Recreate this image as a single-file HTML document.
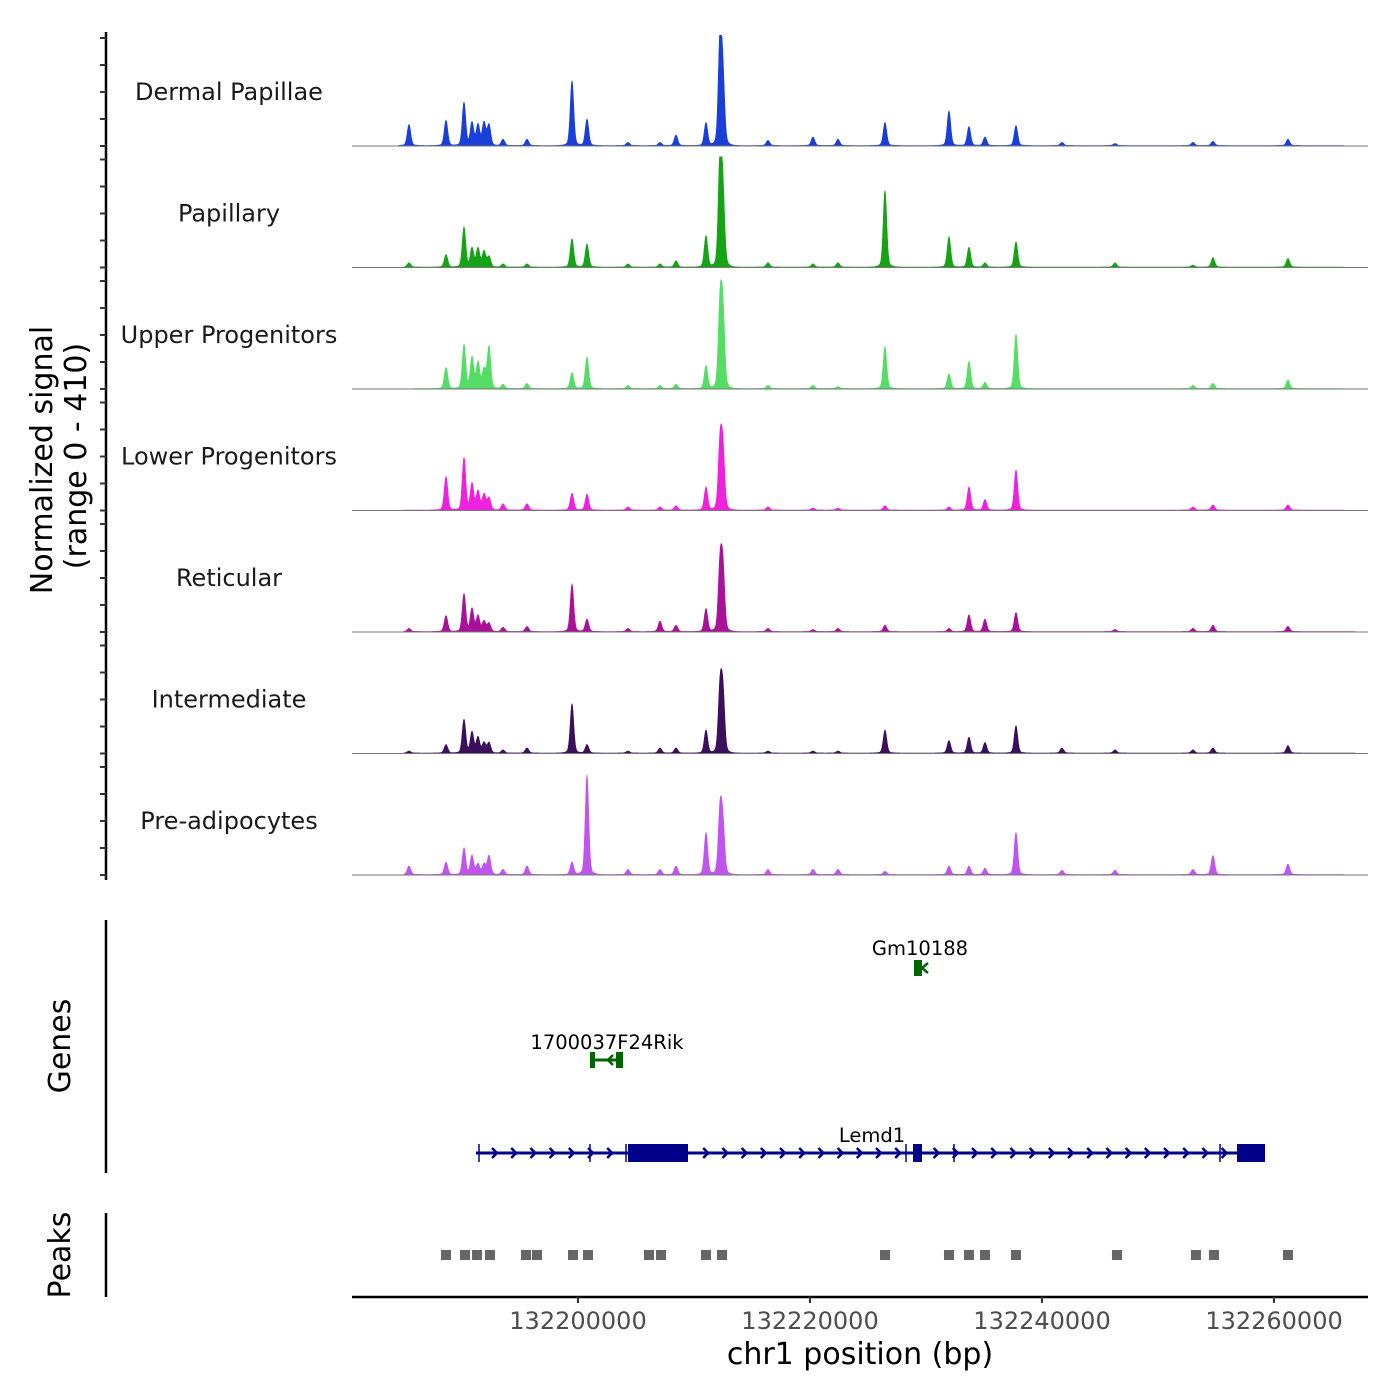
<!DOCTYPE html>
<html><head><meta charset="utf-8"><style>
body{margin:0;background:#fff}
svg{display:block;font-family:"DejaVu Sans","Liberation Sans",sans-serif}
</style></head><body>
<svg id="chart" width="1400" height="1400" viewBox="0 0 1400 1400"></svg>
<script>
const startBp = 132180517, endBp = 132268100;
const trackNames = ["Dermal Papillae","Papillary","Upper Progenitors","Lower Progenitors","Reticular","Intermediate","Pre-adipocytes"];
const trackColors = ["#1a3fd9","#16a316","#55dd66","#ee22dd","#aa1199","#3b0f5c","#c055ee"];
const peakPositions = [132185430,132188620,132190171,132190861,132191378,132191895,132192326,132193533,132195602,132199481,132200774,132204308,132207067,132208446,132211032,132212239,132212497,132216376,132220255,132222410,132226462,132231978,132233702,132235082,132237754,132241719,132246288,132253011,132254735,132261200];
const dermalValues = [74,89,152,81,74,81,74,22,22,229,93,11,11,37,81,370,222,18,30,22,81,122,67,30,70,11,7,11,15,22];
const papillaryValues = [15,44,141,67,67,56,37,11,11,100,81,11,11,22,111,380,241,15,11,15,270,107,70,15,89,0,15,7,33,30];
const upperValues = [0,74,155,111,93,67,148,15,18,56,111,11,11,15,81,289,259,11,11,7,148,52,96,22,192,0,0,11,18,30];
const lowerValues = [0,118,185,93,67,56,44,22,22,59,56,11,11,15,81,229,204,11,7,7,15,11,81,37,141,0,0,11,18,18];
const reticularValues = [11,56,133,81,56,37,30,15,18,167,44,11,37,22,81,229,215,11,7,11,22,11,59,44,67,0,7,11,22,18];
const intermediateValues = [7,30,118,74,56,37,37,11,18,174,30,7,18,18,81,222,204,7,7,7,81,44,56,37,96,18,11,11,18,26];
const preadipValues = [30,44,93,67,37,37,67,18,30,44,352,18,18,30,148,222,167,18,18,18,11,30,30,22,148,15,15,18,67,37];
const trackValues = [dermalValues,papillaryValues,upperValues,lowerValues,reticularValues,intermediateValues,preadipValues];
const yMax = 410;
const yTicks = [0,100,200,300,400];
const xTicks = [132200000,132220000,132240000,132260000];
const peakRegions = [132188620,132190260,132191295,132192410,132195515,132196465,132199570,132200860,132206120,132207155,132211032,132212412,132226462,132231978,132233702,132235082,132237754,132246460,132253270,132254822,132261200];
const signalStart = [132184600,132185000,132186000,132185000,132185000,132185000,132185000];
const signalEnd = [132266000,132266000,132266000,132266000,132267000,132267000,132266000];

const NS="http://www.w3.org/2000/svg";
const svg=document.getElementById('chart');
const X0=352,X1=1368;
function xs(bp){return X0+(bp-startBp)/(endBp-startBp)*(X1-X0);}
const trackBase=[146,267.5,389,510.5,632,753.5,875];
const pxPerUnit=0.27;
function el(tag,attrs,parent){const e=document.createElementNS(NS,tag);for(const k in attrs)e.setAttribute(k,attrs[k]);(parent||svg).appendChild(e);return e;}
function txt(s,attrs){const t=el('text',attrs);t.textContent=s;return t;}

let a=el('line',{x1:106,y1:32,x2:106,y2:880,stroke:'#000','stroke-width':2.5});


trackBase.forEach((b,i)=>{
  yTicks.forEach(v=>{
    const y=b-v*pxPerUnit;
    const t=el('line',{x1:100,y1:y,x2:106,y2:y,stroke:'#333','stroke-width':2});
    
    
  });
});
let yt=txt('Normalized signal',{x:0,y:0,'font-size':30,'text-anchor':'middle',transform:'translate(52,460) rotate(-90)',fill:'#000'});


let yt2=txt('(range 0 - 410)',{x:0,y:0,'font-size':30,'text-anchor':'middle',transform:'translate(86,456) rotate(-90)',fill:'#000'});



trackNames.forEach((name,i)=>{
  const b=trackBase[i];
  const lab=txt(name,{x:229,y:b-46,'font-size':24,'text-anchor':'middle',fill:'#1a1a1a'});
  
  
  const vals=trackValues[i];
  const sx=xs(signalStart[i]),ex=xs(signalEnd[i]);
  let d='M'+sx+','+b;
  for(let x=Math.floor(sx);x<=ex;x+=0.5){
    let v=2;
    const bp=startBp+(x-X0)/(X1-X0)*(endBp-startBp);
    for(let k=0;k<peakPositions.length;k++){
      const dd=(bp-peakPositions[k])/210;
      v+=vals[k]*Math.exp(-dd*dd);
      const d2=(bp-peakPositions[k])/600;
      v+=vals[k]*0.05*Math.exp(-d2*d2);
    }
    v=Math.min(v,yMax);
    d+=' L'+x+','+(b-v*pxPerUnit).toFixed(1);
  }
  d+=' L'+ex+','+b+' Z';
  const p=el('path',{d:d,fill:trackColors[i],stroke:trackColors[i],'stroke-width':0.6});
  
  
  const bl=el('line',{x1:X0,y1:b,x2:X1,y2:b,stroke:'#777','stroke-width':1});
  
  
});

let ga=el('line',{x1:106,y1:920,x2:106,y2:1173,stroke:'#000','stroke-width':2.5});


let gt=txt('Genes',{x:0,y:0,'font-size':30,'text-anchor':'middle',transform:'translate(70,1046) rotate(-90)'});


const navy='#00008b',dg='#006400';
el('line',{x1:476,y1:1153,x2:1265,y2:1153,stroke:navy,'stroke-width':3});
for(let x=495;x<1230;x+=19.2){
  if(x>628&&x<690)continue;
  el('path',{d:`M${x-3},${1148} L${x+2},1153 L${x-3},1158`,fill:'none',stroke:navy,'stroke-width':2.5});
}
[479,590,626,906,954,1220].forEach(x=>el('line',{x1:x,y1:1144,x2:x,y2:1162,stroke:navy,'stroke-width':1.5}));
let ex1=el('rect',{x:628,y:1144,width:60,height:18,fill:navy});

el('rect',{x:913,y:1144,width:9,height:18,fill:navy});
el('rect',{x:1237,y:1144,width:28,height:18,fill:navy});
let l1=txt('Lemd1',{x:872,y:1142,'font-size':19.5,'text-anchor':'middle'});

el('line',{x1:592,y1:1060,x2:621,y2:1060,stroke:dg,'stroke-width':3});
el('rect',{x:590,y:1052,width:5,height:16,fill:dg});
el('rect',{x:616,y:1052,width:7,height:16,fill:dg});
el('path',{d:'M613,1055 L608,1060 L613,1065',fill:'none',stroke:dg,'stroke-width':2.5});
let l2=txt('1700037F24Rik',{x:607,y:1049,'font-size':19.5,'text-anchor':'middle'});

el('rect',{x:914,y:960,width:8,height:16,fill:dg});
el('path',{d:'M928,963 L922,968 L928,973',fill:'none',stroke:dg,'stroke-width':2.5});
let l3=txt('Gm10188',{x:920,y:955,'font-size':19.5,'text-anchor':'middle'});


let pa=el('line',{x1:106,y1:1213,x2:106,y2:1297,stroke:'#000','stroke-width':2.5});

let pt=txt('Peaks',{x:0,y:0,'font-size':30,'text-anchor':'middle',transform:'translate(70,1255) rotate(-90)'});

peakRegions.forEach(bp=>{
  const r=el('rect',{x:xs(bp)-5,y:1250,width:10,height:10,fill:'#666'});
  
  
});

let xa=el('line',{x1:X0,y1:1297,x2:X1,y2:1297,stroke:'#000','stroke-width':2.5});

xTicks.forEach(v=>{
  const x=xs(v);
  const t=el('line',{x1:x,y1:1297,x2:x,y2:1303,stroke:'#333','stroke-width':2});
  
  const l=txt(String(v),{x:x,y:1329,'font-size':24,'text-anchor':'middle',fill:'#4d4d4d'});
  
});
let xt=txt('chr1 position (bp)',{x:860,y:1364,'font-size':30,'text-anchor':'middle'});

</script>
</body></html>
